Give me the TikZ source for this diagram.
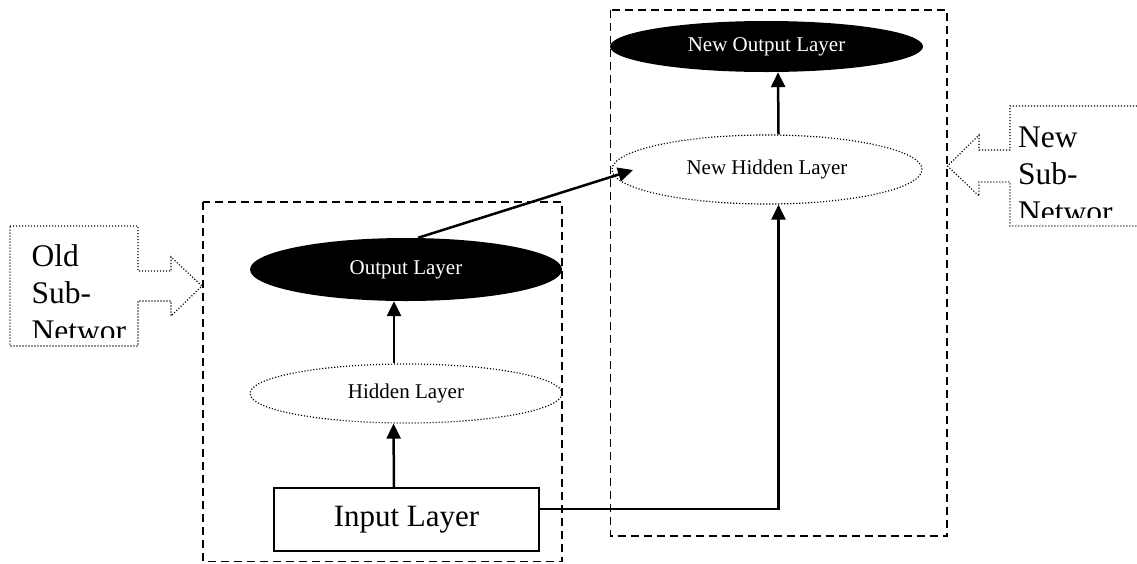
\documentclass[tikz,border=0pt]{standalone}
\usepackage{fontspec}
\setmainfont{Liberation Serif}
\usetikzlibrary{arrows.meta,shapes.geometric}

\begin{document}
\begin{tikzpicture}[x=1pt,y=-1pt,
  layer/.style={ellipse, inner sep=0pt, font=\fontsize{21}{25}\selectfont},
  solidlayer/.style={layer, fill=black, text=white},
  dotlayer/.style={layer, draw, line width=1.2pt, dash pattern=on 1.1pt off 1.9pt},
  inputbox/.style={draw, line width=1.3pt, inner sep=0pt, font=\fontsize{31}{36}\selectfont},
  group/.style={draw, line width=1.4pt, dash pattern=on 8pt off 5pt},
  callout/.style={draw, line width=1.2pt, dash pattern=on 1.1pt off 1.9pt},
  flow/.style={draw, line width=2.5pt, -{Triangle[length=15pt,width=14pt]}},
  calltext/.style={anchor=base west, inner sep=0pt, font=\fontsize{31.5}{36}\selectfont}]

\useasboundingbox (0,0) rectangle (1137,563);

% sub-network frames
\draw[group] (203,202) rectangle (562,561.5);
\draw[group] (610.5,10) rectangle (947,536);

% layers
\node[solidlayer, minimum width=313pt, minimum height=51pt] (nout) at (766.5,46.5) {New Output Layer};
\node[dotlayer, minimum width=310pt, minimum height=69pt] (nhid) at (767,169.5) {New Hidden Layer};
\node[solidlayer, minimum width=312pt, minimum height=63pt] (out) at (406,269.5) {Output Layer};
\node[dotlayer, minimum width=312pt, minimum height=59pt] (hid) at (406,393.5) {Hidden Layer};
\node[inputbox, minimum width=265pt, minimum height=63pt] (inp) at (406.5,519.5) {Input Layer};

% connections
\draw[flow] ([xshift=-12.5pt]inp.north) -- ([xshift=-12.5pt]hid.south);
\draw[flow] ([xshift=-12pt]hid.north) -- ([xshift=-12pt]out.south);
\draw[flow] ([xshift=11.5pt]nhid.north) -- ([xshift=11.5pt]nout.south);
\draw[flow] ([yshift=10.5pt]inp.east) -| ([xshift=11.5pt]nhid.south);
\draw[flow] ([xshift=12pt]out.north) -- ([shift={(-134pt,-0.5pt)}]nhid.center);

% callout: old sub-network
\draw[callout] (10,226) -- (138,226) -- (138,271) -- (171,271) -- (171,257)
  -- (202,286) -- (171,316) -- (171,301) -- (138,301) -- (138,346) -- (10,346) -- cycle;
\node[calltext] (oldA) at (31.5,266) {Old};
\node[calltext] (oldB) at (31.5,303) {Sub-};
\begin{scope}
  \clip (10,226) rectangle (138,337);
  \node[calltext] (oldC) at (31.5,341) {Networ};
\end{scope}

% callout: new sub-network
\draw[callout] (1137,106) -- (1010,106) -- (1010,150) -- (979,150) -- (979,135)
  -- (947.5,166) -- (979,196) -- (979,182) -- (1010,182) -- (1010,226) -- (1137,226);
\node[calltext] (newA) at (1018,147) {New};
\node[calltext] (newB) at (1018,184) {Sub-};
\begin{scope}
  \clip (1010,106) rectangle (1137,217);
  \node[calltext] (newC) at (1018,222) {Networ};
\end{scope}

\end{tikzpicture}
\end{document}
